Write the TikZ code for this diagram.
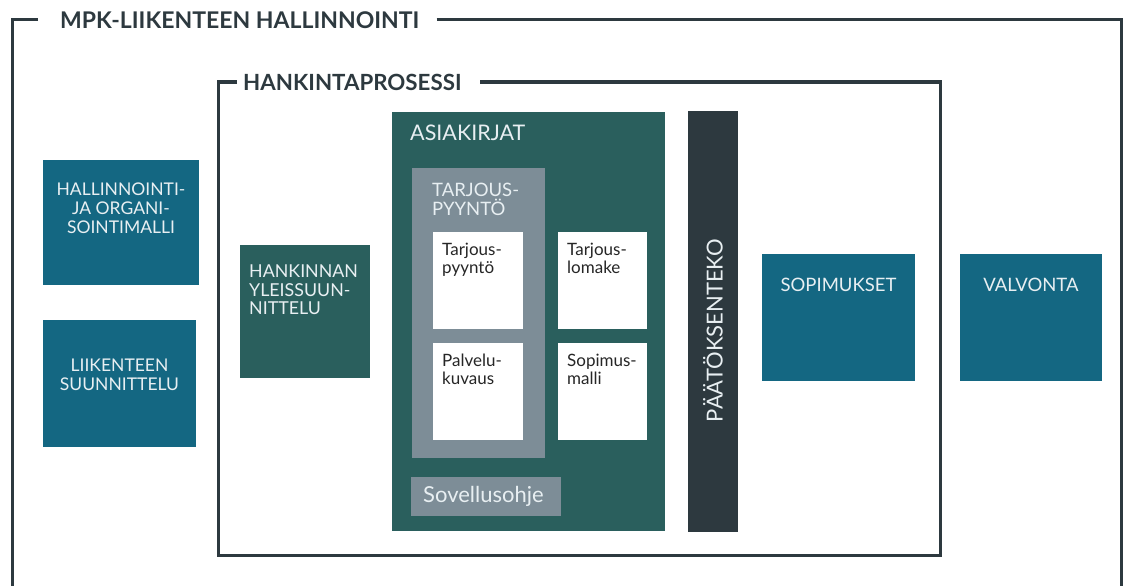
\documentclass[tikz,border=0pt]{standalone}
\usepackage{fontspec}
\setmainfont{Lato}
\usetikzlibrary{positioning}
\definecolor{petrol}{HTML}{146782}
\definecolor{tealdark}{HTML}{2A5F5D}
\definecolor{slate}{HTML}{7D8D97}
\definecolor{charcoal}{HTML}{2D393F}
\definecolor{paletxt}{HTML}{E8EFF2}
\tikzset{
        frame/.style={charcoal, line width=3pt}, % the open frames round the groups
        box/.style={anchor=north west, inner sep=0pt, outer sep=0pt}, % every coloured block
        bluebox/.style={box, fill=petrol},
        tealbox/.style={box, fill=tealdark},
        greybox/.style={box, fill=slate},
        paper/.style={box, fill=white}, % the white documents
        heading/.style={anchor=west, inner sep=0pt, charcoal, font=\fontsize{23}{23}\selectfont\bfseries},
        boxtext/.style={inner sep=0pt, align=center, text=paletxt, font=\fontsize{17.5}{19}\selectfont},
        doctext/.style={inner sep=0pt, align=left, text=black!85, font=\fontsize{17}{17.5}\selectfont},
    }
\begin{document}
\begin{tikzpicture}[x=1pt, y=-1pt, node distance=20pt]
    \useasboundingbox (0,0) rectangle (1127,586);
    % headings and frames
    \node[heading] (outer) at (60,20.5) {MPK-LIIKENTEEN HALLINNOINTI};
    \node[heading, font=\fontsize{22.3}{22.3}\selectfont\bfseries] (inner) at (243,82) {HANKINTAPROSESSI};
    \draw[frame] ([xshift=-22pt]outer.west |- 0,20) -- (12,20) -- (12,586);
    \draw[frame] ([xshift=17pt]outer.east |- 0,20) -- (1121,20) -- (1121,586);
    \draw[frame] ([xshift=-6pt]inner.west |- 0,82) -- (218,82) -- (218,555) -- (940,555) -- (940,82) -- ([xshift=18pt]inner.east |- 0,82);

    % left column
    \node[bluebox, minimum width=156, minimum height=125] (hall) at (43,160) {};
    \node[boxtext, below=23pt of hall.north] {HALLINNOINTI-\\JA ORGANI-\\SOINTIMALLI};
    \node[bluebox, minimum width=153, minimum height=127] (liik) at (43,320) {};
    \node[boxtext, below=39pt of liik.north] {LIIKENTEEN\\SUUNNITTELU};

    % procurement process
    \node[tealbox, minimum width=130, minimum height=133] (hank) at (240,245) {};
    \node[boxtext, anchor=north west, align=left, font=\fontsize{17.8}{18.5}\selectfont, below right=20pt and 9pt of hank.north west] {HANKINNAN\\YLEISSUUN-\\NITTELU};
    \node[tealbox, minimum width=273, minimum height=419] (asia) at (392,112) {};
    \node[boxtext, anchor=north west, font=\fontsize{21.5}{21.5}\selectfont, below right=13pt and 18pt of asia.north west] {ASIAKIRJAT};
    \node[greybox, minimum width=133, minimum height=290] (tpgrey) at (412,168) {};
    \node[boxtext, anchor=north west, align=left, font=\fontsize{18.5}{19}\selectfont, below right=15pt and 20pt of tpgrey.north west] {TARJOUS-\\PYYNTÖ};
    \node[paper, minimum width=90, minimum height=97] (tp) at (433,232) {};
    \node[doctext, anchor=north west, below right=11pt and 9pt of tp.north west] {Tarjous-\\pyyntö};
    \node[paper, minimum width=90, minimum height=97] (pk) at (433,343) {};
    \node[doctext, anchor=north west, below right=11pt and 9pt of pk.north west] {Palvelu-\\kuvaus};
    \node[paper, minimum width=89, minimum height=97] (tl) at (558,232) {};
    \node[doctext, anchor=north west, below right=11pt and 9pt of tl.north west] {Tarjous-\\lomake};
    \node[paper, minimum width=89, minimum height=97] (sm) at (558,343) {};
    \node[doctext, anchor=north west, below right=11pt and 9pt of sm.north west] {Sopimus-\\malli};
    \node[greybox, minimum width=150, minimum height=39] (sov) at (411,477) {};
    \node[boxtext, anchor=west, font=\fontsize{22}{22}\selectfont, right=12pt of sov.west] {Sovellusohje};

    % decision and after
    \node[box, fill=charcoal, minimum width=50, minimum height=421] (paat) at (688,111) {};
    \node[boxtext, rotate=90, font=\fontsize{22}{22}\selectfont] at ([yshift=-9pt]paat.center) {PÄÄTÖKSENTEKO};
    \node[bluebox, minimum width=153, minimum height=127] (sop) at (762,254) {};
    \node[boxtext, font=\fontsize{18.5}{18.5}\selectfont, below=24pt of sop.north] {SOPIMUKSET};
    \node[bluebox, minimum width=142, minimum height=127] (valv) at (960,254) {};
    \node[boxtext, font=\fontsize{18.5}{18.5}\selectfont, below=24pt of valv.north] {VALVONTA};
\end{tikzpicture}
\end{document}
